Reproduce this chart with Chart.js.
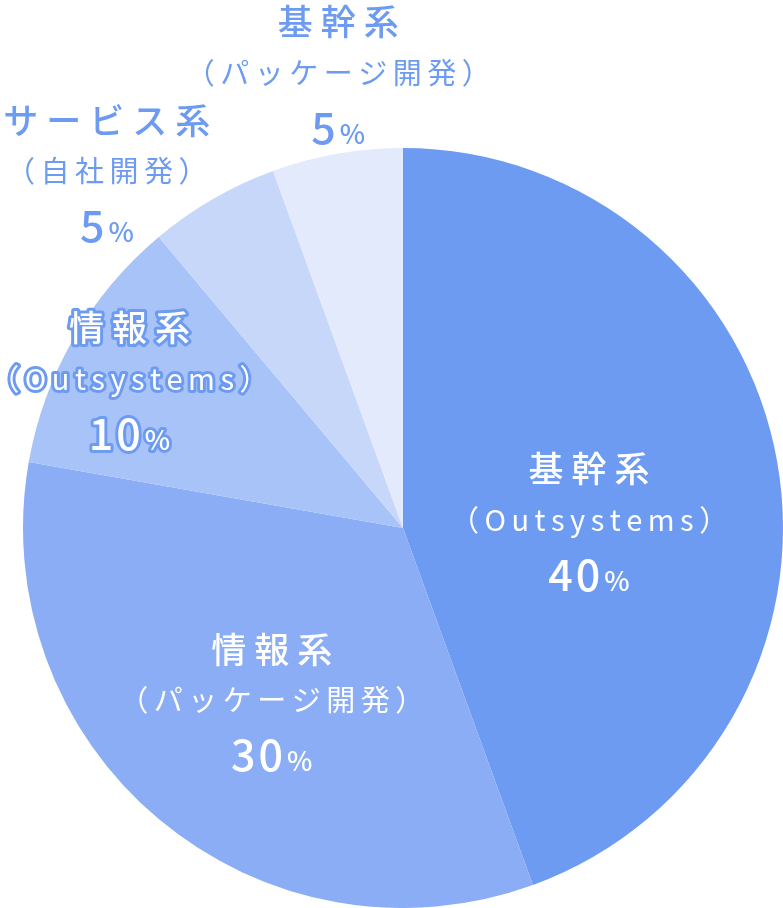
<!DOCTYPE html>
<html><head><meta charset="utf-8">
<script src="https://cdn.jsdelivr.net/npm/chart.js@4/dist/chart.umd.min.js"></script>
<style>html,body{margin:0;padding:0;background:#fff}#wrap{width:783px;height:908px;position:relative}canvas{display:block}</style>
</head><body><div id="wrap"><canvas id="c" width="783" height="908"></canvas></div>
<script>
const categories = ['基幹系（Outsystems）','情報系（パッケージ開発）','情報系（Outsystems）','サービス系（自社開発）','基幹系（パッケージ開発）'];
const titles = ['基幹系','情報系','情報系','サービス系','基幹系'];
const subtitles = ['（Outsystems）','（パッケージ開発）','（Outsystems）','（自社開発）','（パッケージ開発）'];
const values = [40, 30, 10, 5, 5];
const percentLabels = ['40', '30', '10', '5', '5'];
const colors = ['#6d9bf2', '#8aadf5', '#a8c3f7', '#c6d7f9', '#e2eafc'];

// label placement relative to the pie (angle from top clockwise, fraction of radius)
const placement = [
  {a: 87.6, r: 0.49, mode: 'in'},
  {a: 217.3, r: 0.57, mode: 'in'},
  {a: 298.6, r: 0.82, mode: 'outline'},
  {a: 320.3, r: 1.22, mode: 'out'},
  {a: 351.9, r: 1.21, mode: 'out'}
];
const FONT = '"Noto Sans CJK JP", "Noto Sans", sans-serif';
const BLUE = '#6d9bf2';

function spacedWidth(ctx, text, sp) {
  let w = 0; const chars = Array.from(text);
  chars.forEach(ch => w += ctx.measureText(ch).width);
  return w + sp * (chars.length - 1);
}
function drawSpaced(ctx, text, cx, y, sp, mode) {
  const chars = Array.from(text);
  let x = cx - spacedWidth(ctx, text, sp) / 2;
  ctx.textAlign = 'left';
  chars.forEach(ch => {
    if (mode === 'outline') ctx.strokeText(ch, x, y);
    ctx.fillText(ch, x, y);
    x += ctx.measureText(ch).width + sp;
  });
}

const labelPlugin = {
  id: 'sliceLabels',
  afterDraw(chart) {
    const ctx = chart.ctx;
    const meta = chart.getDatasetMeta(0);
    meta.data.forEach((arc, i) => {
      const p = placement[i];
      const ang = p.a * Math.PI / 180;
      const R = arc.outerRadius;
      const cx = arc.x + Math.sin(ang) * R * p.r;
      const cy = arc.y - Math.cos(ang) * R * p.r;
      ctx.save();
      ctx.fillStyle = p.mode === 'out' ? BLUE : '#ffffff';
      ctx.strokeStyle = BLUE;
      ctx.lineWidth = 6;
      ctx.lineJoin = 'round';
      ctx.textBaseline = 'middle';
      // title
      ctx.font = '500 35px ' + FONT;
      drawSpaced(ctx, titles[i], cx, cy - 51, 8, p.mode);
      // subtitle
      ctx.font = '400 29px ' + FONT;
      drawSpaced(ctx, subtitles[i], cx, cy, 5.5, p.mode);
      // percent
      ctx.textBaseline = 'alphabetic';
      ctx.font = '500 43px ' + FONT;
      const num = percentLabels[i];
      const wNum = spacedWidth(ctx, num, 3);
      ctx.font = '500 27px ' + FONT;
      const wPct = ctx.measureText('%').width;
      const gap = 4;
      const total = wNum + gap + wPct;
      const x0 = cx - total / 2;
      const base = cy + 56 + 15;
      ctx.font = '500 43px ' + FONT;
      drawSpaced(ctx, num, x0 + wNum / 2, base, 3, p.mode);
      ctx.font = '500 27px ' + FONT;
      ctx.textAlign = 'left';
      if (p.mode === 'outline') ctx.strokeText('%', x0 + wNum + gap, base);
      ctx.fillText('%', x0 + wNum + gap, base);
      ctx.restore();
    });
  }
};

new Chart(document.getElementById('c'), {
  type: 'pie',
  data: {
    labels: categories,
    datasets: [{data: values, backgroundColor: colors, borderWidth: 0, hoverOffset: 0}]
  },
  options: {
    responsive: false,
    animation: false,
    layout: {padding: {left: 23, top: 148, right: 0, bottom: 0}},
    plugins: {legend: {display: false}, tooltip: {enabled: false}}
  },
  plugins: [labelPlugin]
});
</script>
</body></html>
